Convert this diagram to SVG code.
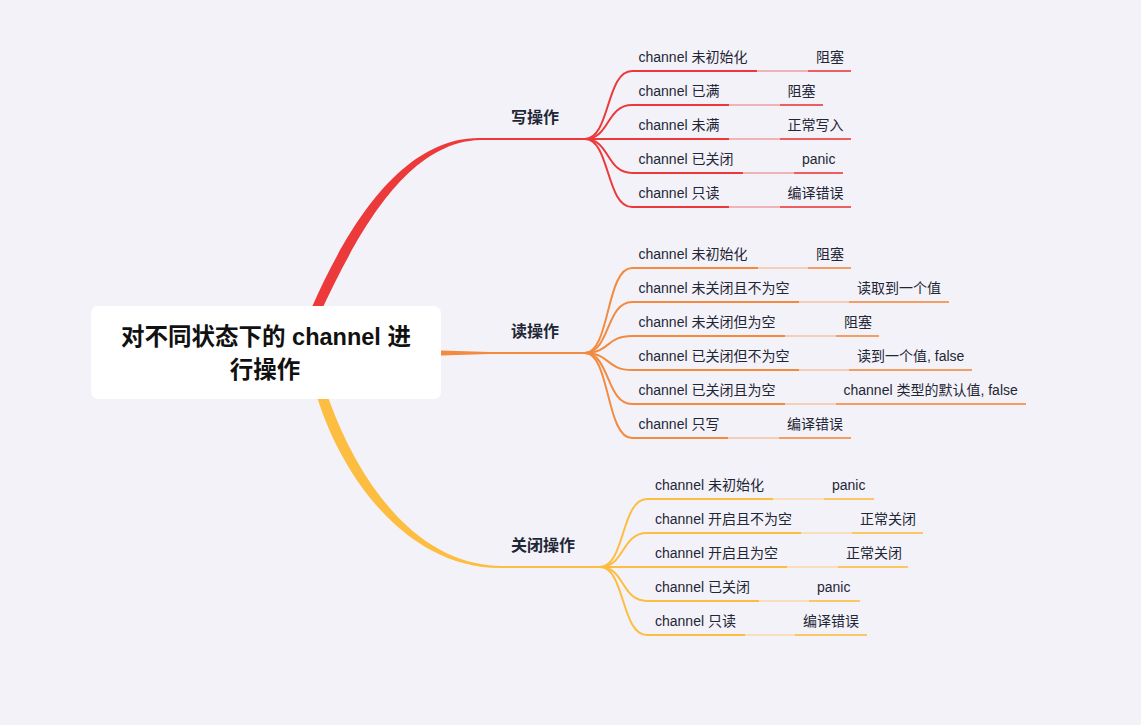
<svg xmlns="http://www.w3.org/2000/svg" width="1141" height="725" viewBox="0 0 1141 725">
<style>
.t{font-family:"Liberation Sans","Noto Sans CJK SC",sans-serif;font-size:14px;fill:#1f2636}
.h{font-family:"Liberation Sans","Noto Sans CJK SC",sans-serif;font-size:16px;font-weight:600;fill:#1f2636}
.r{font-family:"Liberation Sans","Noto Sans CJK SC",sans-serif;font-size:23.5px;font-weight:bold;fill:#111}
.ln{fill:none;stroke-width:2;stroke-linecap:butt}
.cn{fill:none;stroke-width:1.5;opacity:0.45}
.gl{fill:none;stroke-width:1.8;opacity:0.8}
.red{stroke:#ec3a3b}.org{stroke:#f38a3e}.yel{stroke:#fdbd40}
</style>
<rect width="1141" height="725" fill="#f3f2f8"/>
<g id="connectors">
<path d="M305,322 L312,307 C345,232 400,137 480,138 L480,140 C405,142 356,238 323,307 L316,322 Z" fill="#ec3a3b"/>
<path d="M480,139 L585,139" class="ln red"/>
<path d="M441,350.5 L490,352 L490,354 L441,355.5 Z" fill="#f38a3e"/>
<path d="M490,353 L585,353" class="ln org"/>
<path d="M312,385 L318,400 C345,483 410,568 500,568 L500,566 C413,564 357,477 329,400 L323,385 Z" fill="#fdbd40"/>
<path d="M500,567 L600,567" class="ln yel"/>
<g class="ln red">
<path d="M585,139 C610,139 606,71 632,71 L757,71"/>
<path d="M585,139 C610,139 606,105 632,105 L729,105"/>
<path d="M585,139 L729,139"/>
<path d="M585,139 C610,139 606,173 632,173 L743,173"/>
<path d="M585,139 C610,139 606,207 632,207 L729,207"/>
</g>
<g class="cn red">
<path d="M757,71 L808,71"/><path d="M729,105 L780,105"/><path d="M729,139 L780,139"/><path d="M743,173 L794,173"/><path d="M729,207 L780,207"/>
</g>
<g class="gl red">
<path d="M808,71 L851,71"/><path d="M780,105 L823,105"/><path d="M780,139 L851,139"/><path d="M794,173 L843,173"/><path d="M780,207 L851,207"/>
</g>
<g class="ln org">
<path d="M585,353 C610,353 606,268 632,268 L758,268"/>
<path d="M585,353 C610,353 606,302 632,302 L799,302"/>
<path d="M585,353 C610,353 606,336 632,336 L785,336"/>
<path d="M585,353 C610,353 606,370 632,370 L799,370"/>
<path d="M585,353 C610,353 606,404 632,404 L785,404"/>
<path d="M585,353 C610,353 606,438 632,438 L728,438"/>
</g>
<g class="cn org">
<path d="M758,268 L808,268"/><path d="M799,302 L849,302"/><path d="M785,336 L836,336"/><path d="M799,370 L849,370"/><path d="M785,404 L836,404"/><path d="M728,438 L779,438"/>
</g>
<g class="gl org">
<path d="M808,268 L851,268"/><path d="M849,302 L949,302"/><path d="M836,336 L879,336"/><path d="M849,370 L972,370"/><path d="M836,404 L1026,404"/><path d="M779,438 L851,438"/>
</g>
<g class="ln yel">
<path d="M600,567 C625,567 621,499 647,499 L773,499"/>
<path d="M600,567 C625,567 621,533 647,533 L801,533"/>
<path d="M600,567 L787,567"/>
<path d="M600,567 C625,567 621,601 647,601 L759,601"/>
<path d="M600,567 C625,567 621,635 647,635 L745,635"/>
</g>
<g class="cn yel">
<path d="M773,499 L824,499"/><path d="M801,533 L852,533"/><path d="M787,567 L838,567"/><path d="M759,601 L809,601"/><path d="M745,635 L795,635"/>
</g>
<g class="gl yel">
<path d="M824,499 L874,499"/><path d="M852,533 L923,533"/><path d="M838,567 L908,567"/><path d="M809,601 L860,601"/><path d="M795,635 L867,635"/>
</g>
</g>
<g id="root">
<rect x="91" y="306" width="350" height="93" rx="7" fill="#ffffff"/>
<text class="r" x="266" y="345" text-anchor="middle">对不同状态下的 channel 进</text>
<text class="r" x="265" y="378" text-anchor="middle">行操作</text>
</g>
<g id="write">
<text class="h" x="511" y="123">写操作</text>
</g>
<g id="write-children">
<text class="t" x="638.5" y="62">channel 未初始化</text><text class="t" x="816" y="62">阻塞</text>
<text class="t" x="638.5" y="96">channel 已满</text><text class="t" x="787.5" y="96">阻塞</text>
<text class="t" x="638.5" y="130">channel 未满</text><text class="t" x="787.5" y="130">正常写入</text>
<text class="t" x="638.5" y="164">channel 已关闭</text><text class="t" x="802" y="164">panic</text>
<text class="t" x="638.5" y="198">channel 只读</text><text class="t" x="787.5" y="198">编译错误</text>
</g>
<g id="read">
<text class="h" x="511" y="337">读操作</text>
</g>
<g id="read-children">
<text class="t" x="638.5" y="259">channel 未初始化</text><text class="t" x="816" y="259">阻塞</text>
<text class="t" x="638.5" y="293">channel 未关闭且不为空</text><text class="t" x="857" y="293">读取到一个值</text>
<text class="t" x="638.5" y="327">channel 未关闭但为空</text><text class="t" x="844" y="327">阻塞</text>
<text class="t" x="638.5" y="361">channel 已关闭但不为空</text><text class="t" x="857" y="361">读到一个值, false</text>
<text class="t" x="638.5" y="395">channel 已关闭且为空</text><text class="t" x="843.5" y="395">channel 类型的默认值, false</text>
<text class="t" x="638.5" y="429">channel 只写</text><text class="t" x="787" y="429">编译错误</text>
</g>
<g id="close">
<text class="h" x="511" y="551">关闭操作</text>
</g>
<g id="close-children">
<text class="t" x="655" y="490">channel 未初始化</text><text class="t" x="832" y="490">panic</text>
<text class="t" x="655" y="524">channel 开启且不为空</text><text class="t" x="860" y="524">正常关闭</text>
<text class="t" x="655" y="558">channel 开启且为空</text><text class="t" x="846" y="558">正常关闭</text>
<text class="t" x="655" y="592">channel 已关闭</text><text class="t" x="817" y="592">panic</text>
<text class="t" x="655" y="626">channel 只读</text><text class="t" x="803" y="626">编译错误</text>
</g>
</svg>
